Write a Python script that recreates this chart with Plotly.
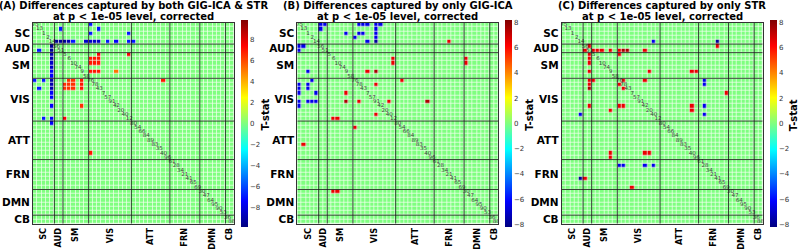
import numpy as np
import plotly.graph_objects as go

N = 47
domains = ["SC", "AUD", "SM", "VIS", "ATT", "FRN", "DMN", "CB"]
domain_sizes = [5, 2, 6, 10, 9, 7, 6, 2]
diag_labels = [75, 13, 1, 2, 14,
               56, 51,
               5, 6, 10, 74, 9, 58,
               76, 78, 43, 7, 57, 91, 42, 20, 40, 12,
               80, 54, 66, 84, 89, 83, 35, 40, 96,
               61, 28, 34, 21, 41, 65, 69,
               30, 47, 64, 95, 90, 53,
               36, 88]

titles = ["(A) Differences captured by both GIG-ICA & STR",
          "(B) Differences captured by only GIG-ICA",
          "(C) Differences captured by only STR"]
subtitle = "at p < 1e-05 level, corrected"
cbar_ticks = [-8, -6, -4, -2, 0, 2, 4, 6, 8]
cbar_limits = [9.9, 8.2, 8.2]

# significant cells: (row, col, t-stat)
cells_A = [
    (0, 13, -7), (1, 6, -7), (1, 15, -7), (2, 13, -7), (2, 22, -7),
    (4, 5, -9.5), (4, 6, -9.5), (4, 7, -9.5), (4, 8, -9), (4, 9, -7),
    (4, 12, -8.5), (4, 13, -8.5), (4, 14, -8.5), (4, 15, -8.5), (4, 17, -7),
    (4, 19, -7.5), (4, 22, -7), (4, 23, -7),
    (5, 4, -9.5), (6, 4, -9.5), (7, 4, -9), (8, 4, -9), (9, 4, -8.5), (10, 4, -8.5),
    (11, 4, -7.5), (12, 4, -7.5), (13, 4, -9), (14, 4, -9), (15, 4, -9), (16, 4, -7.5),
    (17, 4, -7.5), (19, 4, -7.5), (22, 4, -7.5), (23, 4, -7.5),
    (6, 1, -7),
    (7, 15, 7.5), (7, 22, 7.5),
    (8, 13, 7), (8, 14, 7), (8, 15, 7), (9, 13, 7), (9, 14, 7), (9, 15, 7),
    (11, 13, 7), (11, 14, 7), (11, 15, 7), (11, 19, 5.2),
    (13, 0, -7), (13, 2, -7), (13, 8, 6.5), (13, 9, 6.5), (13, 11, 7), (13, 30, 7),
    (14, 7, 6.5), (14, 8, 6.5), (14, 9, 6.5), (14, 11, 7),
    (15, 1, -7), (15, 7, 6.5), (15, 8, 6.5), (15, 9, 6.5), (15, 11, 7),
    (19, 11, 6.5), (22, 2, -7), (22, 7, 7.5), (30, 13, 7),
]
cells_B = [
    (0, 5, -6.5), (0, 6, -6.5), (0, 14, -6.5), (0, 15, -6.5), (0, 16, -6.5),
    (0, 18, -6.5), (0, 19, -6.5),
    (1, 5, -6.5), (1, 18, -6.5),
    (2, 11, -6.5), (2, 14, -6.5), (2, 15, -6.5), (2, 18, -6.5),
    (3, 13, -6.5), (3, 18, -6.5),
    (4, 16, -6.5), (4, 18, -7.8), (4, 35, 6.5),
    (5, 0, -6.5), (5, 1, -6.5), (6, 0, -6.5),
    (8, 22, 6.5), (9, 22, 6.5), (8, 39, 6.5), (9, 39, 6.5),
    (11, 2, -6.5), (11, 16, 6.5), (11, 18, 7.6),
    (13, 3, -6.5), (13, 24, 6.5),
    (14, 0, -6.5), (14, 2, -6.5), (14, 18, 6.5),
    (15, 0, -6.5), (15, 2, -6.5),
    (16, 0, -6.5), (16, 4, -6.5), (16, 11, 6.5),
    (18, 0, -6.5), (18, 2, -6.5), (18, 3, -6.5), (18, 4, -6.5), (18, 11, 7.5),
    (18, 14, 6.5), (18, 21, 6.5), (18, 30, 7.5),
    (19, 0, -6.5), (21, 18, 6.5), (22, 8, 6.5), (22, 9, 6.5), (24, 13, 6.5),
    (28, 1, 6.5), (39, 8, 6.5), (39, 9, 6.5),
]
cells_C = [
    (4, 21, -6.5), (4, 36, -7.8), (5, 6, 6.5), (5, 36, 6.5),
    (6, 5, 6.5), (6, 7, 6.5), (6, 8, 6.5), (6, 9, 6.5), (6, 11, 6.5),
    (6, 13, 6.5), (6, 14, 7.5), (6, 15, 7.5), (6, 19, 6.5),
    (7, 6, 6.5), (7, 13, 6.5), (8, 6, 6.5), (9, 6, 6.5),
    (11, 6, 6.5), (11, 20, 6.5), (11, 30, 6.5), (11, 31, 6.5),
    (13, 6, 6.5), (13, 7, 6.5), (13, 14, 6.5), (13, 19, 6.5), (13, 33, -6.5),
    (14, 6, 6.5), (14, 13, 6.5), (14, 33, -6.5),
    (15, 6, 7.5), (15, 14, 6.5), (16, 38, 6.5),
    (19, 6, 6.5), (19, 13, 6.5), (19, 14, 6.5), (19, 30, 6.5), (19, 33, -6.5),
    (20, 11, 6.5), (20, 30, 6.5), (21, 4, -6.5), (21, 33, -6.5),
    (30, 11, 6.5), (30, 19, 6.5), (30, 20, 6.5), (31, 11, 6.5),
    (33, 13, -6.5), (33, 14, -6.5), (33, 19, -6.5), (33, 21, -6.5),
    (36, 4, -7.8), (36, 5, 6.5), (38, 16, 6.5),
]

W, H = 798, 249
panel_left = [33.0, 297.3, 561.7]
mat_size = 201.0
mat_top = 22.7

jet = [[0.0, "rgb(0,0,128)"], [0.125, "rgb(0,0,255)"], [0.375, "rgb(0,255,255)"],
       [0.625, "rgb(255,255,0)"], [0.875, "rgb(255,0,0)"], [1.0, "rgb(128,0,0)"]]

starts = np.cumsum([0] + domain_sizes[:-1])
ends = np.cumsum(domain_sizes) - 1
centers = [(s + e) / 2 for s, e in zip(starts, ends)]
bounds = [e + 0.5 for e in ends[:-1]]


def build(cells):
    z = np.zeros((N, N))
    for r, c, v in cells:
        z[r, c] = v
    return z


fig = go.Figure()
layout = dict(width=W, height=H, margin=dict(l=0, r=0, t=0, b=0, autoexpand=False),
              paper_bgcolor="white", plot_bgcolor="#f4fff0", showlegend=False,
              font=dict(family="DejaVu Sans", color="black"))
annotations = []
shapes = []
for k, cells in enumerate([cells_A, cells_B, cells_C]):
    sfx = "" if k == 0 else str(k + 1)
    xa, ya = "x" + sfx, "y" + sfx
    lim = cbar_limits[k]
    fig.add_trace(go.Heatmap(
        z=build(cells), x=list(range(N)), y=list(range(N)),
        xaxis=xa, yaxis=ya, coloraxis="coloraxis" + sfx,
        xgap=0.7, ygap=0.7, hoverinfo="skip"))
    fig.add_trace(go.Scatter(
        x=list(range(N)), y=list(range(N)), mode="text",
        text=[str(v) for v in diag_labels], xaxis=xa, yaxis=ya,
        textfont=dict(size=5.5, color="#444", family="DejaVu Sans"),
        hoverinfo="skip"))
    x0 = panel_left[k] / W
    x1 = (panel_left[k] + mat_size) / W
    y1 = 1 - mat_top / H
    y0 = 1 - (mat_top + mat_size) / H
    layout["xaxis" + sfx] = dict(
        domain=[x0, x1], anchor=ya, range=[-0.5, N - 0.5], automargin=False,
        tickvals=centers, ticktext=["<b>%s</b>" % d for d in domains],
        tickangle=-90, ticks="", showgrid=False, zeroline=False,
        showline=True, mirror=True, linecolor="#333", linewidth=1,
        tickfont=dict(size=8.2, color="black"))
    layout["yaxis" + sfx] = dict(
        domain=[y0, y1], anchor=xa, range=[N - 0.5, -0.5], automargin=False,
        tickvals=centers, ticktext=["<b>%s</b>" % d for d in domains],
        ticks="", showgrid=False, zeroline=False,
        showline=True, mirror=True, linecolor="#333", linewidth=1,
        tickfont=dict(size=10.5, color="black"))
    layout["coloraxis" + sfx] = dict(
        colorscale=jet, cmin=-lim, cmax=lim,
        colorbar=dict(x=(panel_left[k] + 208) / W, xanchor="left",
                      y=1 - 123.5 / H, yanchor="middle",
                      len=207 / H, lenmode="fraction", thickness=6.5,
                      xpad=0, ypad=0, outlinewidth=0,
                      tickvals=cbar_ticks, ticks="",
                      tickfont=dict(size=7, color="#333")))
    for b in bounds:
        shapes.append(dict(type="line", xref=xa, yref=ya, x0=b, x1=b, y0=-0.5, y1=N - 0.5,
                           line=dict(color="rgba(20,20,20,0.8)", width=1)))
        shapes.append(dict(type="line", xref=xa, yref=ya, y0=b, y1=b, x0=-0.5, x1=N - 0.5,
                           line=dict(color="rgba(20,20,20,0.8)", width=1)))
    cx = (panel_left[k] + mat_size / 2) / W
    annotations.append(dict(text="<b>%s</b>" % titles[k], xref="paper", yref="paper",
                            x=cx, y=1 - 5.7 / H, xanchor="center", yanchor="middle",
                            showarrow=False, font=dict(size=10, color="black")))
    annotations.append(dict(text="<b>%s</b>" % subtitle, xref="paper", yref="paper",
                            x=cx, y=1 - 16.7 / H, xanchor="center", yanchor="middle",
                            showarrow=False, font=dict(size=10, color="black")))
    annotations.append(dict(text="<b>T-stat</b>", xref="paper", yref="paper",
                            x=(panel_left[k] + 232.5) / W, y=1 - 115 / H,
                            xanchor="center", yanchor="middle", textangle=-90,
                            showarrow=False, font=dict(size=10, color="black")))

layout["annotations"] = annotations
layout["shapes"] = shapes
fig.update_layout(**layout)
fig.write_html("out.html", config={"displayModeBar": False},
               post_script="document.body.style.margin='0';document.body.style.padding='0';")
